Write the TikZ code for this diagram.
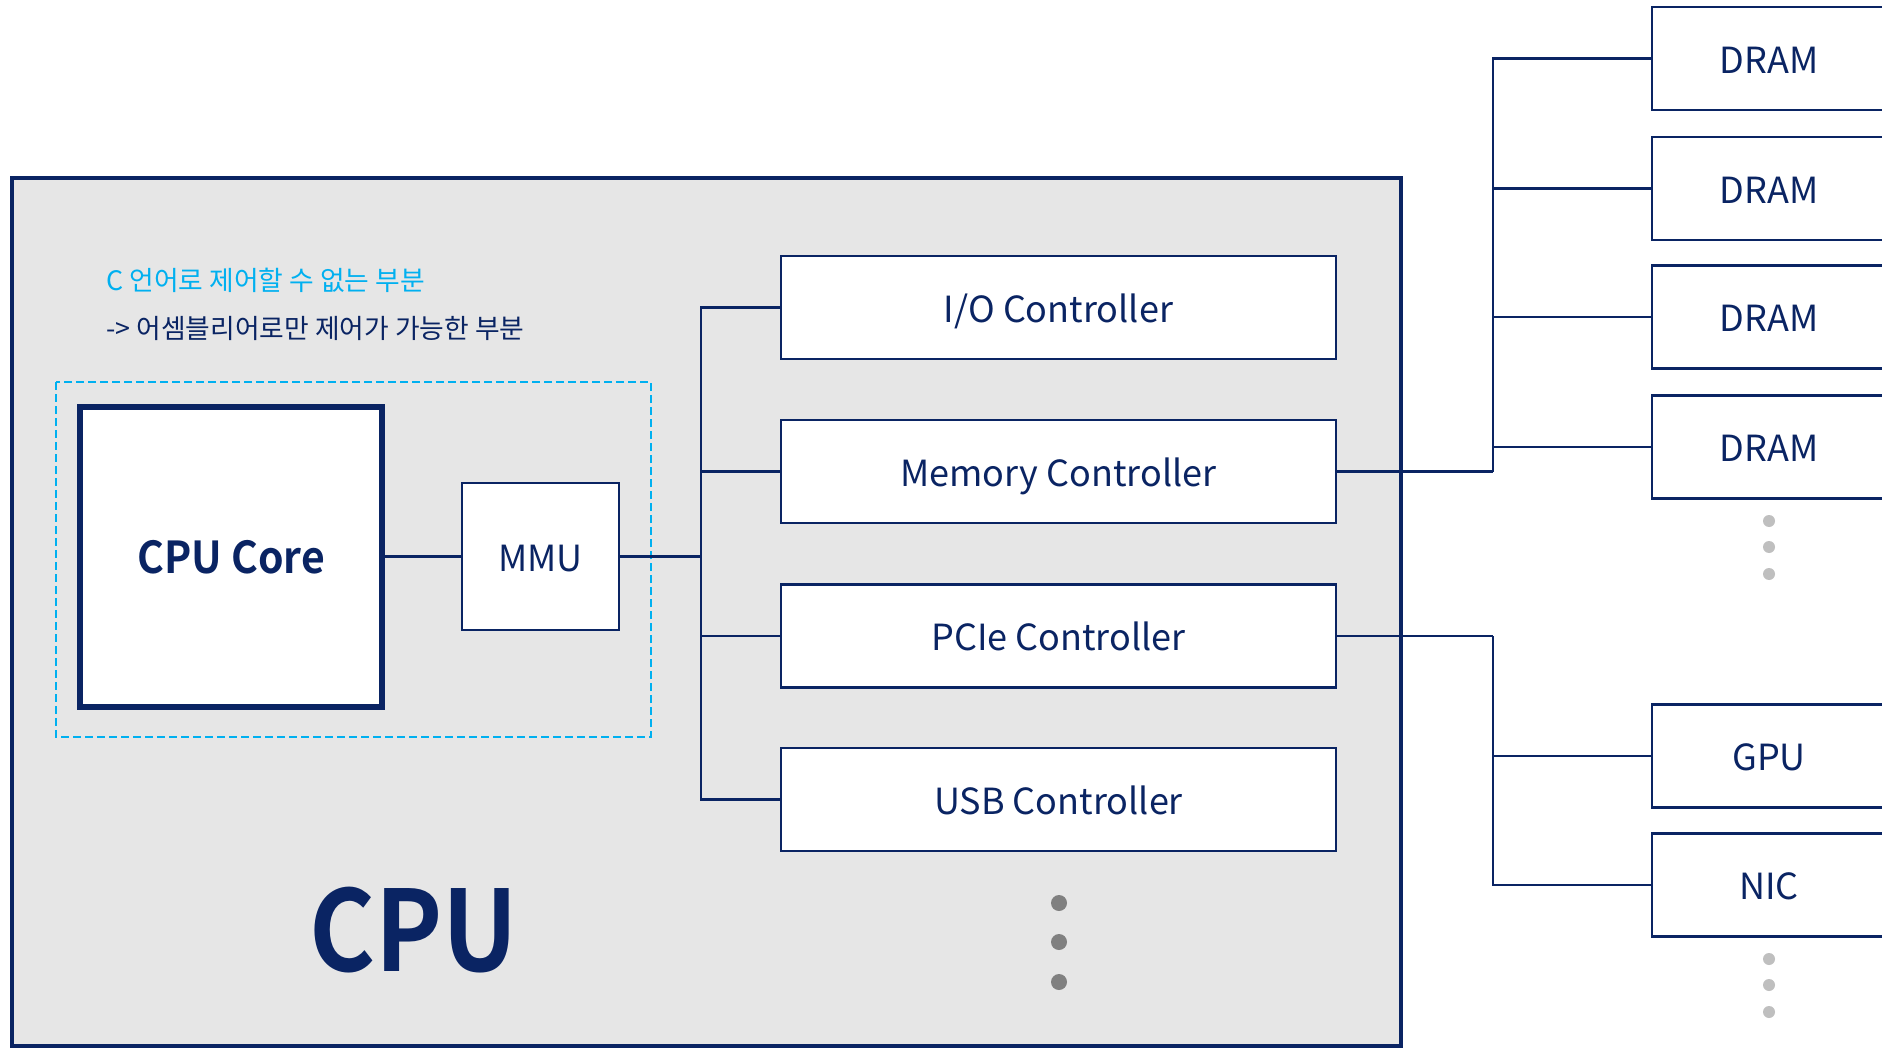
\documentclass[tikz,border=0pt]{standalone}
\usepackage{fontspec}
\setmainfont{Noto Sans CJK KR}
\newfontfamily\narrowbold[FakeStretch=0.9]{Noto Sans CJK KR Bold}
\newfontfamily\corebold[FakeStretch=0.93]{Noto Sans CJK KR Bold}
\definecolor{navy}{HTML}{0A2463}
\definecolor{skyline}{HTML}{00B0F0}
\definecolor{panel}{HTML}{E6E6E6}
\definecolor{dotdark}{HTML}{808080}
\definecolor{dotlight}{HTML}{BFBFBF}
\tikzset{
  unitbox/.style={draw=navy, fill=white, line width=1.3pt, inner sep=0pt,
    text=navy, font=\fontsize{18}{20}\selectfont, text height=15.6pt, text depth=0.8pt},
  ctrlbox/.style={unitbox, minimum width=277.5pt, minimum height=51.5pt},
  devbox/.style={unitbox, minimum width=117pt, minimum height=51.5pt},
  wire/.style={draw=navy, line width=1.25pt},
  buswire/.style={draw=navy, line width=1.6pt},
  notetext/.style={anchor=west, inner sep=0pt, font=\fontsize{13.4}{15}\selectfont},
}
\begin{document}
\begin{tikzpicture}[x=0.5pt, y=-0.5pt]
\clip (0,0) rectangle (1882,1048);
\fill[white] (0,0) rectangle (1882,1048);

% CPU package
\draw[navy, fill=panel, line width=1.6pt] (12,178) rectangle (1401,1046);
\node[navy, font=\narrowbold\fontsize{56}{60}\selectfont] (cpulabel) at (414,930) {CPU};

% note on the region that C cannot control
\node[notetext, text=skyline] (note1) at (106,280) {C 언어로 제어할 수 없는 부분};
\node[notetext, text=navy] (note2) at (106,328) {-> 어셈블리어로만 제어가 가능한 부분};
\draw[skyline, line width=1.2pt, dash pattern=on 4pt off 2pt] (56,382) rectangle (651,737);

% core and MMU
\node[draw=navy, fill=white, line width=2.6pt, minimum width=151pt, minimum height=150pt,
  text=navy, font=\corebold\fontsize{22}{24}\selectfont] (core) at (231,557) {CPU Core};
\node[unitbox, minimum width=78.5pt, minimum height=73.5pt] (mmu) at (540.5,556.5) {MMU};

% on-chip controllers
\node[ctrlbox] (io)  at (1058.5,307.5) {I/O Controller};
\node[ctrlbox] (mem) at (1058.5,471.5) {Memory Controller};
\node[ctrlbox] (pcie) at (1058.5,636) {PCIe Controller};
\node[ctrlbox] (usb) at (1058.5,799.5) {USB Controller};

% internal bus
\coordinate (busmid) at (701,556.5);
\draw[wire] (core.east) -- (mmu.east -| core.east) -- (mmu.west);
\draw[buswire] (mmu.east) -- (busmid);
\draw[wire] (io.west) -| (busmid);
\draw[wire] (usb.west) -| (busmid);
\draw[wire] (mem.west) -- (mem.west -| busmid);
\draw[wire] (pcie.west) -- (pcie.west -| busmid);

% more controllers
\foreach \yy in {903,942,982}
  \fill[dotdark] (1059,\yy) circle (4pt);

% memory modules
\node[devbox] (dram1) at (1769,58.5) {DRAM};
\node[devbox] (dram2) at (1769,188.5) {DRAM};
\node[devbox] (dram3) at (1769,317) {DRAM};
\node[devbox] (dram4) at (1769,447) {DRAM};
\coordinate (membus) at (1493,471.5);
\draw[buswire] (mem.east) -- (membus);
\draw[wire] (dram1.west) -| (membus);
\draw[wire] (dram2.west) -- (dram2.west -| membus);
\draw[wire] (dram3.west) -- (dram3.west -| membus);
\draw[wire] (dram4.west) -- (dram4.west -| membus);
\foreach \yy in {521,547,574}
  \fill[dotlight] (1769,\yy) circle (3pt);

% PCIe devices
\node[devbox] (gpu) at (1769,756) {GPU};
\node[devbox] (nic) at (1769,885) {NIC};
\coordinate (pciebus) at (1493,636);
\draw[wire] (pcie.east) -- (pciebus);
\draw[wire] (nic.west) -| (pciebus);
\draw[wire] (gpu.west) -- (gpu.west -| pciebus);
\foreach \yy in {959,985,1012}
  \fill[dotlight] (1769,\yy) circle (3pt);
\end{tikzpicture}
\end{document}
